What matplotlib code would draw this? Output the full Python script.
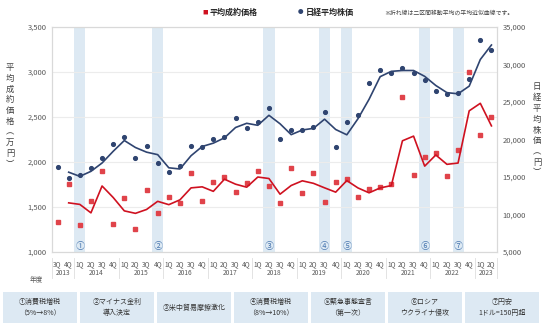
import numpy as np
import pandas as pd
import matplotlib
matplotlib.use("Agg")
import matplotlib.pyplot as plt
from matplotlib.patches import Rectangle

plt.rcParams["font.family"] = ["Noto Sans CJK JP", "DejaVu Sans"]

# fiscal-year quarters, FY2013 3Q .. FY2023 2Q
quarters = ["3Q", "4Q"] + ["1Q", "2Q", "3Q", "4Q"] * 9 + ["1Q", "2Q"]
years = ["2013", "2014", "2015", "2016", "2017", "2018", "2019", "2020", "2021", "2022", "2023"]
year_len = [2, 4, 4, 4, 4, 4, 4, 4, 4, 4, 2]

# average contract price (万円)
price = [1337, 1755, 1303, 1567, 1900, 1311, 1603, 1256, 1689, 1437,
         1615, 1544, 1881, 1567, 1781, 1837, 1670, 1770, 1896, 1737,
         1548, 1930, 1652, 1874, 1552, 1778, 1809, 1615, 1700, 1724,
         1752, 2719, 1856, 2052, 2104, 1844, 2133, 3004, 2300, 2503]
# Nikkei average (円)
nikkei = [16373, 14907, 15267, 16240, 17493, 19360, 20373, 17493, 19133, 16827,
          15627, 16507, 19173, 18960, 20067, 20373, 22827, 21493, 22293, 24160,
          20027, 21267, 21267, 21707, 23707, 18960, 22293, 23230, 27493, 29267,
          28907, 29493, 28907, 27933, 26467, 26027, 26160, 28067, 33267, 31933]

event_idx = [2, 9, 19, 24, 26, 33, 36]
event_mark = ["①", "②", "③", "④", "⑤", "⑥", "⑦"]
event_text = ["①消費税増税\n（5%→8%）", "②マイナス金利\n導入決定", "③米中貿易摩擦激化",
              "④消費税増税\n（8%→10%）", "⑤緊急事態宣言\n（第一次）", "⑥ロシア\nウクライナ侵攻",
              "⑦円安\n1ドル=150円超"]

RED = "#cf1120"
RED_PT = "#e0434a"
NAVY = "#2f4470"
BAND = "#dde9f3"
TXT = "#595959"

x = np.arange(len(quarters))
price_ma = pd.Series(price).rolling(2).mean()
nikkei_ma = pd.Series(nikkei).rolling(2).mean()

fig = plt.figure(figsize=(5.5, 3.36), dpi=100)
ax = fig.add_axes([52 / 550, 1 - 252 / 336, 445 / 550, 225 / 336])
ax2 = ax.twinx()

for i, m in zip(event_idx, event_mark):
    ax.axvspan(i - 0.5, i + 0.5, color=BAND, lw=0, zorder=0)
    ax.text(i, 1060, m, ha="center", va="center", fontsize=6.5, color="#4a78b0", zorder=3)

ax.set_xlim(-0.5, len(quarters) - 0.5)
ax.set_ylim(1000, 3500)
ax.set_yticks(np.arange(1000, 3501, 500))
ax.set_yticklabels([f"{v:,}" for v in range(1000, 3501, 500)])
ax.grid(axis="y", color="#ececec", lw=0.8, zorder=0)
ax.set_axisbelow(True)

ax.plot(x, price, "s", color=RED_PT, ms=2.7, zorder=4)
ax.plot(x, price_ma, color=RED, lw=1.2, zorder=4)

ax2.set_ylim(5000, 35000)
ax2.set_yticks(np.arange(5000, 35001, 5000))
ax2.set_yticklabels([f"{v:,}" for v in range(5000, 35001, 5000)])
ax2.plot(x, nikkei, "o", color=NAVY, ms=2.7, zorder=4)
ax2.plot(x, nikkei_ma, color=NAVY, lw=1.2, zorder=4)

for a in (ax, ax2):
    for s in a.spines.values():
        s.set_color("#d9d9d9")
        s.set_linewidth(0.8)
    a.tick_params(length=0, labelsize=5.5, labelcolor=TXT)
ax.tick_params(axis="y", pad=4)
ax2.tick_params(axis="y", pad=4)

ax.set_xticks(x)
ax.set_xticklabels(quarters, fontsize=4.8, color=TXT)
ax.tick_params(axis="x", pad=6)

# year row and separators
trans = ax.get_xaxis_transform()
start = 0
bounds = [-0.5]
for yr, n in zip(years, year_len):
    ax.text(start + (n - 1) / 2, -0.095, yr, transform=trans, ha="center", va="center",
            fontsize=4.8, color=TXT)
    start += n
    bounds.append(start - 0.5)
for b in bounds:
    ax.plot([b, b], [-0.025, -0.115], transform=trans, color="#e3e3e3", lw=0.7, clip_on=False)
fig.text(30 / 550, 1 - 280 / 336, "年度", fontsize=4.8, color=TXT, ha="left", va="center")

# vertical axis titles
fig.text(10 / 550, 1 - 116 / 336, "\n".join("平均成約価格︵万円︶"), fontsize=6, color="#404040",
         ha="center", va="center", linespacing=1.25)
fig.text(537 / 550, 1 - 130 / 336, "\n".join("日経平均株価︵円︶"), fontsize=6, color="#404040",
         ha="center", va="center", linespacing=1.25)

# legend
fig.text(205 / 550, 1 - 12 / 336, "■", fontsize=4, color=RED, ha="center", va="center")
fig.text(210 / 550, 1 - 12 / 336, "平均成約価格", fontsize=5.8, color="#262626",
         fontweight="bold", ha="left", va="center")
fig.text(301 / 550, 1 - 12 / 336, "●", fontsize=4, color=NAVY, ha="center", va="center")
fig.text(306 / 550, 1 - 12 / 336, "日経平均株価", fontsize=5.8, color="#262626",
         fontweight="bold", ha="left", va="center")
fig.text(384 / 550, 1 - 13 / 336, "※折れ線は二区間移動平均の平均近似曲線です。", fontsize=4.2,
         color="#404040", ha="left", va="center")

# event boxes
bx = 3
for t in event_text:
    fig.patches.append(Rectangle((bx / 550, 1 - 323 / 336), 74 / 550, 31 / 336,
                                 transform=fig.transFigure, facecolor=BAND, edgecolor="none"))
    fig.text((bx + 37) / 550, 1 - 307.5 / 336, t, fontsize=5, color="#333333",
             ha="center", va="center", linespacing=1.6)
    bx += 77

fig.savefig("out.png", dpi=100)
